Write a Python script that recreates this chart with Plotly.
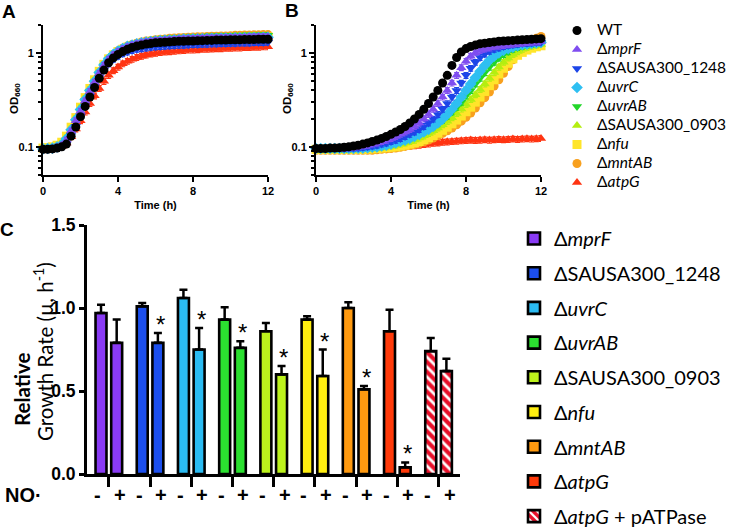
import plotly.graph_objects as go

W, H = 734, 532
def px(x):
    return x / W
def py(y):
    return 1 - y / H

# ---------------- data: growth curves (panels A, B) ----------------
t_h = [0.0, 0.25, 0.5, 0.75, 1.0, 1.25, 1.5, 1.75, 2.0, 2.25, 2.5, 2.75, 3.0, 3.25, 3.5, 3.75,
       4.0, 4.25, 4.5, 4.75, 5.0, 5.25, 5.5, 5.75, 6.0, 6.25, 6.5, 6.75, 7.0, 7.25, 7.5, 7.75,
       8.0, 8.25, 8.5, 8.75, 9.0, 9.25, 9.5, 9.75, 10.0, 10.25, 10.5, 10.75, 11.0, 11.25, 11.5,
       11.75, 12.0]

# Panel A (untreated)
odA_WT = [0.094, 0.094, 0.095, 0.097, 0.100, 0.107, 0.130, 0.163, 0.21, 0.27,
          0.34, 0.43, 0.54, 0.66, 0.79, 0.89, 0.97, 1.04, 1.10, 1.15,
          1.19, 1.22, 1.25, 1.27, 1.29, 1.30, 1.31, 1.32, 1.33, 1.34,
          1.34, 1.35, 1.35, 1.36, 1.36, 1.37, 1.37, 1.38, 1.38, 1.38,
          1.39, 1.39, 1.39, 1.40, 1.40, 1.40, 1.41, 1.41, 1.41]
odA_mprF = [0.094, 0.095, 0.096, 0.099, 0.104, 0.118, 0.148, 0.19, 0.24, 0.31,
            0.39, 0.49, 0.61, 0.74, 0.86, 0.96, 1.04, 1.11, 1.17, 1.22,
            1.26, 1.29, 1.32, 1.34, 1.36, 1.37, 1.38, 1.39, 1.40, 1.41,
            1.42, 1.43, 1.43, 1.44, 1.44, 1.45, 1.45, 1.46, 1.46, 1.47,
            1.47, 1.48, 1.48, 1.48, 1.49, 1.49, 1.50, 1.50, 1.50]
odA_1248 = [0.094, 0.094, 0.095, 0.097, 0.100, 0.108, 0.132, 0.166, 0.215, 0.275,
             0.35, 0.44, 0.55, 0.66, 0.77, 0.86, 0.93, 0.99, 1.03, 1.07,
             1.10, 1.12, 1.14, 1.16, 1.17, 1.18, 1.19, 1.20, 1.21, 1.22,
             1.22, 1.23, 1.24, 1.24, 1.25, 1.25, 1.26, 1.26, 1.27, 1.27,
             1.28, 1.28, 1.29, 1.29, 1.29, 1.30, 1.30, 1.30, 1.31]
odA_uvrC = [0.095, 0.096, 0.097, 0.100, 0.106, 0.122, 0.152, 0.195, 0.25, 0.32,
            0.40, 0.50, 0.62, 0.75, 0.87, 0.97, 1.05, 1.12, 1.18, 1.22,
            1.26, 1.29, 1.31, 1.33, 1.35, 1.36, 1.37, 1.38, 1.39, 1.40,
            1.41, 1.41, 1.42, 1.42, 1.43, 1.43, 1.44, 1.44, 1.45, 1.45,
            1.45, 1.46, 1.46, 1.46, 1.47, 1.47, 1.47, 1.48, 1.48]
odA_uvrAB = [0.095, 0.095, 0.096, 0.099, 0.104, 0.118, 0.146, 0.186, 0.24, 0.31,
             0.39, 0.49, 0.60, 0.73, 0.85, 0.95, 1.04, 1.11, 1.17, 1.22,
             1.27, 1.30, 1.33, 1.36, 1.38, 1.40, 1.41, 1.42, 1.43, 1.44,
             1.45, 1.46, 1.47, 1.47, 1.48, 1.49, 1.49, 1.50, 1.50, 1.51,
             1.51, 1.52, 1.52, 1.53, 1.53, 1.53, 1.54, 1.54, 1.55]
odA_0903 = [0.096, 0.097, 0.098, 0.101, 0.108, 0.125, 0.156, 0.20, 0.26, 0.33,
            0.41, 0.51, 0.63, 0.76, 0.88, 0.98, 1.06, 1.13, 1.19, 1.24,
            1.28, 1.31, 1.34, 1.36, 1.38, 1.39, 1.40, 1.41, 1.42, 1.43,
            1.44, 1.45, 1.45, 1.46, 1.47, 1.47, 1.48, 1.48, 1.49, 1.49,
            1.50, 1.50, 1.51, 1.51, 1.52, 1.52, 1.52, 1.53, 1.53]
odA_nfu = [0.097, 0.098, 0.100, 0.104, 0.112, 0.130, 0.162, 0.205, 0.265, 0.335,
           0.42, 0.52, 0.64, 0.76, 0.87, 0.96, 1.04, 1.10, 1.16, 1.20,
           1.24, 1.27, 1.30, 1.32, 1.34, 1.35, 1.36, 1.37, 1.38, 1.39,
           1.40, 1.41, 1.41, 1.42, 1.43, 1.43, 1.44, 1.44, 1.45, 1.45,
           1.46, 1.46, 1.47, 1.47, 1.48, 1.48, 1.48, 1.49, 1.49]
odA_mntAB = [0.095, 0.096, 0.097, 0.100, 0.106, 0.121, 0.150, 0.192, 0.25, 0.32,
             0.40, 0.50, 0.62, 0.75, 0.87, 0.97, 1.06, 1.13, 1.19, 1.24,
             1.28, 1.32, 1.35, 1.37, 1.39, 1.41, 1.42, 1.44, 1.45, 1.46,
             1.47, 1.48, 1.49, 1.50, 1.50, 1.51, 1.52, 1.52, 1.53, 1.53,
             1.54, 1.55, 1.55, 1.56, 1.56, 1.57, 1.57, 1.58, 1.58]
odA_atpG = [0.093, 0.094, 0.095, 0.097, 0.101, 0.110, 0.128, 0.155, 0.19, 0.235,
            0.29, 0.35, 0.42, 0.50, 0.58, 0.65, 0.71, 0.77, 0.82, 0.86,
            0.90, 0.93, 0.96, 0.98, 1.00, 1.02, 1.03, 1.04, 1.05, 1.06,
            1.07, 1.08, 1.08, 1.09, 1.10, 1.10, 1.11, 1.12, 1.12, 1.13,
            1.13, 1.14, 1.14, 1.15, 1.15, 1.16, 1.16, 1.17, 1.17]

# Panel B (NO· treated)
odB_WT = [0.096, 0.096, 0.096, 0.097, 0.097, 0.098, 0.099, 0.100, 0.102, 0.104,
          0.107, 0.110, 0.114, 0.118, 0.123, 0.129, 0.136, 0.144, 0.153, 0.165,
          0.180, 0.198, 0.222, 0.252, 0.29, 0.34, 0.40, 0.48, 0.58, 0.74,
          0.90, 1.03, 1.12, 1.18, 1.22, 1.26, 1.28, 1.30, 1.32, 1.34,
          1.35, 1.36, 1.37, 1.38, 1.39, 1.40, 1.41, 1.42, 1.43]
odB_mprF = [0.096, 0.096, 0.096, 0.096, 0.096, 0.097, 0.097, 0.098, 0.099, 0.100,
            0.102, 0.104, 0.107, 0.110, 0.114, 0.118, 0.123, 0.129, 0.136, 0.144,
            0.153, 0.165, 0.180, 0.198, 0.222, 0.252, 0.29, 0.34, 0.40, 0.48,
            0.58, 0.70, 0.82, 0.93, 1.01, 1.07, 1.11, 1.14, 1.17, 1.19,
            1.21, 1.23, 1.25, 1.27, 1.28, 1.30, 1.31, 1.32, 1.33]
odB_1248 = [0.096, 0.096, 0.096, 0.096, 0.096, 0.096, 0.096, 0.097, 0.097, 0.098,
            0.099, 0.100, 0.102, 0.104, 0.107, 0.110, 0.114, 0.118, 0.123, 0.129,
            0.136, 0.144, 0.153, 0.165, 0.180, 0.198, 0.222, 0.252, 0.29, 0.34,
            0.40, 0.48, 0.58, 0.69, 0.80, 0.90, 0.98, 1.05, 1.10, 1.14,
            1.18, 1.21, 1.23, 1.25, 1.27, 1.28, 1.29, 1.30, 1.31]
odB_uvrC = [0.096, 0.096, 0.096, 0.096, 0.096, 0.096, 0.096, 0.096, 0.096, 0.097,
            0.097, 0.098, 0.099, 0.100, 0.102, 0.104, 0.107, 0.110, 0.114, 0.118,
            0.123, 0.129, 0.136, 0.144, 0.153, 0.165, 0.180, 0.198, 0.222, 0.252,
            0.29, 0.34, 0.40, 0.47, 0.55, 0.64, 0.74, 0.84, 0.93, 1.01,
            1.07, 1.12, 1.16, 1.20, 1.23, 1.25, 1.27, 1.29, 1.30]
odB_uvrAB = [0.095, 0.095, 0.095, 0.095, 0.095, 0.095, 0.095, 0.095, 0.096, 0.096,
             0.097, 0.098, 0.099, 0.100, 0.102, 0.104, 0.107, 0.110, 0.114, 0.118,
             0.123, 0.129, 0.136, 0.144, 0.153, 0.164, 0.177, 0.193, 0.212, 0.236,
             0.265, 0.30, 0.35, 0.40, 0.47, 0.54, 0.62, 0.71, 0.80, 0.89,
             0.97, 1.04, 1.10, 1.15, 1.19, 1.22, 1.24, 1.26, 1.28]
odB_0903 = [0.095, 0.095, 0.095, 0.095, 0.095, 0.095, 0.095, 0.095, 0.095, 0.095,
            0.096, 0.096, 0.097, 0.098, 0.099, 0.100, 0.102, 0.104, 0.107, 0.110,
            0.114, 0.118, 0.124, 0.131, 0.139, 0.148, 0.159, 0.172, 0.187, 0.205,
            0.227, 0.253, 0.283, 0.32, 0.36, 0.41, 0.47, 0.54, 0.62, 0.71,
            0.80, 0.89, 0.97, 1.04, 1.10, 1.15, 1.19, 1.22, 1.24]
odB_nfu = [0.094, 0.094, 0.094, 0.094, 0.094, 0.094, 0.094, 0.094, 0.094, 0.094,
           0.094, 0.095, 0.095, 0.096, 0.097, 0.098, 0.099, 0.100, 0.102, 0.104,
           0.107, 0.110, 0.114, 0.119, 0.125, 0.132, 0.140, 0.150, 0.162, 0.176,
           0.193, 0.213, 0.237, 0.265, 0.30, 0.34, 0.39, 0.45, 0.52, 0.60,
           0.69, 0.78, 0.87, 0.95, 1.02, 1.08, 1.13, 1.17, 1.20]
odB_mntAB = [0.092, 0.092, 0.092, 0.092, 0.092, 0.092, 0.092, 0.092, 0.092, 0.092,
             0.092, 0.092, 0.092, 0.093, 0.094, 0.095, 0.096, 0.097, 0.099, 0.101,
             0.103, 0.106, 0.109, 0.113, 0.118, 0.124, 0.131, 0.139, 0.148, 0.159,
             0.172, 0.188, 0.207, 0.23, 0.26, 0.295, 0.335, 0.385, 0.445, 0.52,
             0.61, 0.72, 0.85, 0.99, 1.12, 1.24, 1.35, 1.44, 1.51]
odB_atpG = [0.094, 0.094, 0.094, 0.094, 0.095, 0.095, 0.095, 0.095, 0.095, 0.096,
            0.096, 0.096, 0.097, 0.097, 0.097, 0.098, 0.098, 0.099, 0.100, 0.101,
            0.102, 0.103, 0.104, 0.106, 0.107, 0.109, 0.110, 0.112, 0.113, 0.114,
            0.115, 0.116, 0.117, 0.118, 0.117, 0.118, 0.119, 0.118, 0.119, 0.120,
            0.119, 0.120, 0.121, 0.120, 0.121, 0.122, 0.121, 0.122, 0.123]

curve_labels = ["WT", "Δ<i>mprF</i>", "ΔSAUSA300_1248", "Δ<i>uvrC</i>", "Δ<i>uvrAB</i>",
                "ΔSAUSA300_0903", "Δ<i>nfu</i>", "Δ<i>mntAB</i>", "Δ<i>atpG</i>"]
curve_colors = ["#000000", "#7F4DF0", "#1C45E8", "#2EBFF2", "#22D62A",
                "#B4EE10", "#FFE52A", "#F8A01E", "#FF3412"]
curve_symbols = ["circle", "triangle-up", "triangle-down", "diamond", "triangle-down",
                 "triangle-up", "square", "circle", "triangle-up"]
curvesA = [odA_WT, odA_mprF, odA_1248, odA_uvrC, odA_uvrAB, odA_0903, odA_nfu, odA_mntAB, odA_atpG]
curvesB = [odB_WT, odB_mprF, odB_1248, odB_uvrC, odB_uvrAB, odB_0903, odB_nfu, odB_mntAB, odB_atpG]

# ---------------- data: relative growth rate (panel C) ----------------
bar_cats = ["mprF", "SAUSA300_1248", "uvrC", "uvrAB", "SAUSA300_0903", "nfu", "mntAB",
            "atpG", "atpG + pATPase"]
bar_labels = ["Δ<i>mprF</i>", "ΔSAUSA300_1248", "Δ<i>uvrC</i>", "Δ<i>uvrAB</i>",
              "ΔSAUSA300_0903", "Δ<i>nfu</i>", "Δ<i>mntAB</i>", "Δ<i>atpG</i>",
              "Δ<i>atpG</i> + pATPase"]
bar_colors = ["#8A3BF5", "#1C4FEE", "#2BBBF2", "#2BE030", "#BCF21C", "#FFEE10",
              "#FF9A10", "#FF3A0A", "#E8102A"]
rate_minus = [0.97, 1.01, 1.06, 0.93, 0.86, 0.93, 1.00, 0.86, 0.74]
err_minus = [0.05, 0.02, 0.05, 0.075, 0.05, 0.02, 0.035, 0.13, 0.08]
rate_plus = [0.79, 0.79, 0.75, 0.76, 0.60, 0.59, 0.51, 0.04, 0.62]
err_plus = [0.14, 0.06, 0.13, 0.04, 0.05, 0.16, 0.02, 0.03, 0.075]
sig_plus = [False, True, True, True, True, True, True, True, False]
striped = [False, False, False, False, False, False, False, False, True]
no_labels = ["-", "+"]

AX_FONT = "Liberation Sans, Arial, sans-serif"
LEG_FONT = "Lato, Open Sans, sans-serif"

fig = go.Figure()

# growth curves: draw coloured strains first, WT last (on top)
order = list(range(1, 9))[::-1] + [0]
for i in order:
    for panel, curves in (("A", curvesA), ("B", curvesB)):
        fig.add_trace(go.Scatter(
            x=t_h, y=curves[i], mode="markers",
            xaxis="x" if panel == "A" else "x2",
            yaxis="y" if panel == "A" else "y2",
            name='<span style="font-size:15.5px">' + curve_labels[i] + "</span>",
            legendgroup="curve" + str(i), legendrank=i + 1,
            showlegend=(panel == "A"), legend="legend",
            marker=dict(symbol=curve_symbols[i], size=9, color=curve_colors[i],
                        line=dict(width=0)),
            error_y=dict(type="percent", value=7, color=curve_colors[i],
                         thickness=1.2, width=2.5),
            cliponaxis=False,
        ))

# bars
for i, cat in enumerate(bar_cats):
    for j, (vals, errs) in enumerate(((rate_minus, err_minus), (rate_plus, err_plus))):
        marker = dict(color=bar_colors[i], line=dict(color="black", width=2.6))
        if striped[i]:
            marker["pattern"] = dict(shape="\\", fgcolor="white", bgcolor=bar_colors[i],
                                     size=7, solidity=0.4, fillmode="replace")
        fig.add_trace(go.Bar(
            x=[cat], y=[vals[i]], xaxis="x3", yaxis="y3",
            offsetgroup="minus" if j == 0 else "plus",
            name=bar_labels[i], legend="legend2", legendgroup="bar" + str(i),
            showlegend=(j == 0),
            marker=marker,
            error_y=dict(type="data", symmetric=False, array=[errs[i]], arrayminus=[0],
                         color="black", thickness=2.5, width=4),
        ))

annotations = []
# panel letters
for letter, x, y in (("A", 9, 12), ("B", 292, 11), ("C", 7, 230)):
    annotations.append(dict(text=letter, x=px(x), y=py(y), xref="paper", yref="paper",
                            showarrow=False, xanchor="center", yanchor="middle",
                            font=dict(family=AX_FONT, size=19, color="black", weight="bold")))
# y titles of A and B
for x in (15, 288):
    annotations.append(dict(text="OD<sub>660</sub>", x=px(x), y=py(99), xref="paper",
                            yref="paper", textangle=-90, showarrow=False,
                            xanchor="center", yanchor="middle",
                            font=dict(family=AX_FONT, size=11.5, color="black",
                                      weight="bold")))
# y title of C (two lines)
annotations.append(dict(text="<b>Relative</b>", x=px(22), y=py(390), xref="paper",
                        yref="paper", textangle=-90, showarrow=False,
                        xanchor="center", yanchor="middle",
                        font=dict(family=LEG_FONT, size=20.5, color="black")))
annotations.append(dict(text="Growth Rate (µ, h<sup>-1</sup>)", x=px(43), y=py(352),
                        xref="paper", yref="paper", textangle=-90, showarrow=False,
                        xanchor="center", yanchor="middle",
                        font=dict(family=LEG_FONT, size=20.5, color="black")))
# NO· row
annotations.append(dict(text="NO·", x=px(23), y=py(495), xref="paper", yref="paper",
                        showarrow=False, xanchor="center", yanchor="middle",
                        font=dict(family=AX_FONT, size=20, color="black", weight="bold")))
for cat in bar_cats:
    for k, lab in enumerate(no_labels):
        annotations.append(dict(text=lab, x=cat, xref="x3", y=py(495), yref="paper",
                                xshift=-11 if k == 0 else 11, showarrow=False,
                                xanchor="center", yanchor="middle",
                                font=dict(family=AX_FONT, size=20, color="black",
                                          weight="bold")))
# significance stars
for i, cat in enumerate(bar_cats):
    if sig_plus[i]:
        annotations.append(dict(text="*", x=cat, xref="x3", y=rate_plus[i] + err_plus[i],
                                yref="y3", xshift=10, yshift=-7, showarrow=False,
                                xanchor="center", yanchor="bottom",
                                font=dict(family=AX_FONT, size=24, color="black")))

tick_font = dict(family=AX_FONT, size=11, color="black", weight="bold")
minor_vals = [0.05, 0.06, 0.07, 0.08, 0.09, 0.2, 0.3, 0.4, 0.5, 0.6, 0.7, 0.8, 0.9, 2]

def time_axis(domain, anchor):
    return dict(domain=domain, anchor=anchor, range=[0, 12], tickvals=[0, 4, 8, 12],
                showline=True, linecolor="black", linewidth=2, ticks="outside",
                ticklen=5, tickwidth=2, tickcolor="black", showgrid=False, zeroline=False,
                tickfont=tick_font,
                title=dict(text="Time (h)", standoff=5,
                           font=dict(family=AX_FONT, size=11, color="black", weight="bold")))

def od_axis(anchor):
    return dict(domain=[py(175), py(25)], anchor=anchor, type="log",
                range=[-1.301, 0.301], tickvals=[0.1, 1], ticktext=["0.1", "1"],
                showline=True, linecolor="black", linewidth=2, ticks="outside",
                ticklen=5, tickwidth=2, tickcolor="black", showgrid=False, zeroline=False,
                tickfont=tick_font,
                minor=dict(tickvals=minor_vals, ticks="outside", ticklen=3.5, tickwidth=1.5,
                           tickcolor="black", showgrid=False))

fig.update_layout(
    width=W, height=H, margin=dict(l=0, r=0, t=0, b=0, autoexpand=False),
    paper_bgcolor="white", plot_bgcolor="white",
    font=dict(family=AX_FONT, color="black"),
    hovermode=False,
    barmode="group", bargap=0.24, bargroupgap=0.3,
    xaxis=time_axis([px(43), px(268)], "y"),
    yaxis=od_axis("x"),
    xaxis2=time_axis([px(316), px(541)], "y2"),
    yaxis2=od_axis("x2"),
    xaxis3=dict(domain=[px(87), px(460)], anchor="y3", type="category",
                categoryorder="array", categoryarray=bar_cats, range=[-0.53, 8.52],
                showticklabels=False, showline=True, linecolor="black", linewidth=3,
                ticks="outside", ticklen=10, tickwidth=3, tickcolor="black",
                showgrid=False, zeroline=False),
    yaxis3=dict(domain=[py(474), py(225)], anchor="x3", range=[0, 1.5],
                tickvals=[0, 0.5, 1.0, 1.5], ticktext=["0.0", "0.5", "1.0", "1.5"],
                showline=True, linecolor="black", linewidth=3, ticks="outside",
                ticklen=5, tickwidth=3, tickcolor="black", showgrid=False, zeroline=False,
                tickfont=dict(family=AX_FONT, size=17.5, color="black", weight="bold")),
    legend=dict(x=px(557), y=py(16), xanchor="left", yanchor="top",
                font=dict(family=LEG_FONT, size=12, color="black"),
                itemsizing="trace", tracegroupgap=0, bgcolor="rgba(0,0,0,0)"),
    legend2=dict(x=px(514), y=py(219), xanchor="left", yanchor="top",
                 font=dict(family=LEG_FONT, size=20, color="black"),
                 tracegroupgap=5.7, bgcolor="rgba(0,0,0,0)"),
    annotations=annotations,
)

fig.write_html("out.html",
               config={"displayModeBar": False},
               post_script="document.body.style.margin='0';"
                           "document.body.style.overflow='hidden';")
